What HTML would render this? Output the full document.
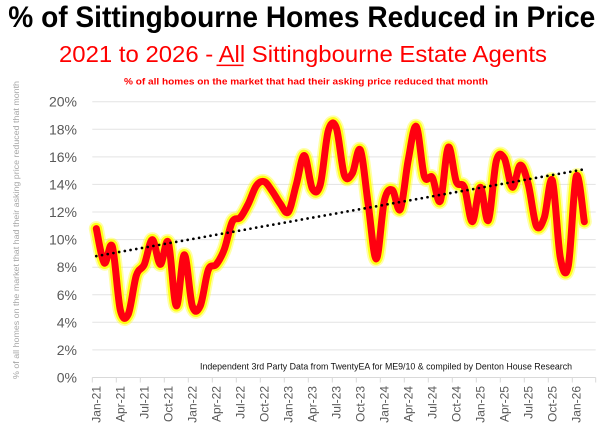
<!DOCTYPE html>
<html>
<head>
<meta charset="utf-8">
<style>
  html,body{margin:0;padding:0;background:#fff;}
  body{width:608px;height:433px;overflow:hidden;}
  svg{display:block;}
  text{font-family:"Liberation Sans", Arial, sans-serif;}
</style>
</head>
<body>
<svg id="chart" width="608" height="433" viewBox="0 0 608 433" xmlns="http://www.w3.org/2000/svg">
  <rect x="0" y="0" width="608" height="433" fill="#ffffff"/>

  <!-- Titles -->
  <text x="8.3" y="27" font-size="30" font-weight="bold" fill="#000" textLength="587" lengthAdjust="spacingAndGlyphs">% of Sittingbourne Homes Reduced in Price</text>
  <text x="59" y="62" font-size="23" fill="#ff0000" textLength="488" lengthAdjust="spacingAndGlyphs">2021 to 2026 - All Sittingbourne Estate Agents</text>
  <rect x="216.5" y="64.6" width="27" height="1.5" fill="#ff0000"/>
  <text x="124" y="84.5" font-size="9.5" font-weight="bold" fill="#ff0000" textLength="364" lengthAdjust="spacingAndGlyphs">% of all homes on the market that had their asking price reduced that month</text>

  <!-- Y axis title -->
  <text transform="translate(19,230) rotate(-90)" text-anchor="middle" font-size="8.5" fill="#a6a6a6" textLength="298" lengthAdjust="spacingAndGlyphs">% of all homes on the market that had their asking price reduced that month</text>

  <!-- Gridlines -->
  <g stroke="#e3e3e3" stroke-width="1">
    <line x1="92.3" x2="595.7" y1="349.9" y2="349.9"/>
    <line x1="92.3" x2="595.7" y1="322.3" y2="322.3"/>
    <line x1="92.3" x2="595.7" y1="294.8" y2="294.8"/>
    <line x1="92.3" x2="595.7" y1="267.2" y2="267.2"/>
    <line x1="92.3" x2="595.7" y1="239.6" y2="239.6"/>
    <line x1="92.3" x2="595.7" y1="212.0" y2="212.0"/>
    <line x1="92.3" x2="595.7" y1="184.4" y2="184.4"/>
    <line x1="92.3" x2="595.7" y1="156.9" y2="156.9"/>
    <line x1="92.3" x2="595.7" y1="129.3" y2="129.3"/>
    <line x1="92.3" x2="595.7" y1="101.7" y2="101.7"/>
  </g>
  <!-- X axis line and ticks -->
  <g stroke="#d9d9d9" stroke-width="1">
    <line x1="92.3" x2="595.7" y1="377.5" y2="377.5"/>
    <g id="ticks"></g>
  </g>

  <!-- Y labels -->
  <g font-size="14" fill="#595959" text-anchor="end">
    <text x="77" y="382.5">0%</text>
    <text x="77" y="354.9">2%</text>
    <text x="77" y="327.3">4%</text>
    <text x="77" y="299.8">6%</text>
    <text x="77" y="272.2">8%</text>
    <text x="77" y="244.6">10%</text>
    <text x="77" y="217.0">12%</text>
    <text x="77" y="189.4">14%</text>
    <text x="77" y="161.9">16%</text>
    <text x="77" y="134.3">18%</text>
    <text x="77" y="106.7">20%</text>
  </g>

  <!-- X labels -->
  <g font-size="12" fill="#595959" text-anchor="end">
    <text transform="translate(100.5,386) rotate(-90)">Jan-21</text>
    <text transform="translate(124.5,386) rotate(-90)">Apr-21</text>
    <text transform="translate(148.5,386) rotate(-90)">Jul-21</text>
    <text transform="translate(172.5,386) rotate(-90)">Oct-21</text>
    <text transform="translate(196.5,386) rotate(-90)">Jan-22</text>
    <text transform="translate(220.5,386) rotate(-90)">Apr-22</text>
    <text transform="translate(244.5,386) rotate(-90)">Jul-22</text>
    <text transform="translate(268.5,386) rotate(-90)">Oct-22</text>
    <text transform="translate(292.5,386) rotate(-90)">Jan-23</text>
    <text transform="translate(316.5,386) rotate(-90)">Apr-23</text>
    <text transform="translate(340.5,386) rotate(-90)">Jul-23</text>
    <text transform="translate(364.5,386) rotate(-90)">Oct-23</text>
    <text transform="translate(388.5,386) rotate(-90)">Jan-24</text>
    <text transform="translate(412.5,386) rotate(-90)">Apr-24</text>
    <text transform="translate(436.5,386) rotate(-90)">Jul-24</text>
    <text transform="translate(460.5,386) rotate(-90)">Oct-24</text>
    <text transform="translate(484.5,386) rotate(-90)">Jan-25</text>
    <text transform="translate(508.5,386) rotate(-90)">Apr-25</text>
    <text transform="translate(532.5,386) rotate(-90)">Jul-25</text>
    <text transform="translate(556.5,386) rotate(-90)">Oct-25</text>
    <text transform="translate(580.5,386) rotate(-90)">Jan-26</text>
  </g>

  <!-- Source note -->
  <text x="200" y="369.5" font-size="9.5" fill="#111" textLength="372" lengthAdjust="spacingAndGlyphs">Independent 3rd Party Data from TwentyEA for ME9/10 &amp; compiled by Denton House Research</text>

  <!-- Data series -->
  <g fill="none" stroke-linejoin="round" stroke-linecap="round">
    <path class="series" stroke="#ffff00" stroke-opacity="0.35" stroke-width="15" d=""/>
    <path class="series" stroke="#ffff00" stroke-opacity="0.85" stroke-width="11.5" d=""/>
    <path class="series" stroke="#ff0010" stroke-width="7" d=""/>
  </g>

  <!-- Trend line -->
  <line x1="96.3" y1="256.1" x2="584.3" y2="169.3" stroke="#000" stroke-width="2.7" stroke-dasharray="0 5.8" stroke-linecap="round"/>
</svg>

<script>
(function(){
  var ys=[228.6,263.0,246.5,309.9,314.1,275.5,264.4,239.6,264.4,242.4,
          305.8,254.8,305.8,305.8,269.9,264.4,249.3,221.7,217.5,203.8,
          185.8,181.7,191.3,203.8,212.0,184.4,155.5,188.6,184.4,130.7,
          127.9,174.8,173.4,150.0,205.1,258.9,201.0,190.0,209.3,159.6,
          126.5,176.2,177.5,201.0,147.2,181.7,187.2,221.7,187.2,220.3,
          161.0,158.2,187.2,165.1,184.4,225.8,217.5,180.3,257.5,265.8,
          176.2,221.7];
  var pts=ys.map(function(y,i){return [96.3+8*i,y];});
  var poly="M"+pts.map(function(p){return p[0].toFixed(1)+" "+p[1].toFixed(1);}).join(" L");
  var d="M"+pts[0][0].toFixed(2)+" "+pts[0][1].toFixed(2);
  for(var i=0;i<pts.length-1;i++){
    var p0=pts[i-1]||pts[i], p1=pts[i], p2=pts[i+1], p3=pts[i+2]||pts[i+1];
    var c1x=p1[0]+(p2[0]-p0[0])/6, c1y=p1[1]+(p2[1]-p0[1])/6;
    var c2x=p2[0]-(p3[0]-p1[0])/6, c2y=p2[1]-(p3[1]-p1[1])/6;
    d+=" C"+c1x.toFixed(2)+" "+c1y.toFixed(2)+" "+c2x.toFixed(2)+" "+c2y.toFixed(2)+" "+p2[0].toFixed(2)+" "+p2[1].toFixed(2);
  }
  var paths=document.querySelectorAll(".series");
  for(var k=0;k<paths.length;k++){paths[k].setAttribute("d", d||poly);}
  var g=document.getElementById("ticks"), ns="http://www.w3.org/2000/svg";
  for(var t=0;t<=21;t++){
    var x=92.3+24*t; if(x>596)x=595.7;
    var l=document.createElementNS(ns,"line");
    l.setAttribute("x1",x);l.setAttribute("x2",x);
    l.setAttribute("y1",377.5);l.setAttribute("y2",382.5);
    g.appendChild(l);
  }
})();
</script>
</body>
</html>
